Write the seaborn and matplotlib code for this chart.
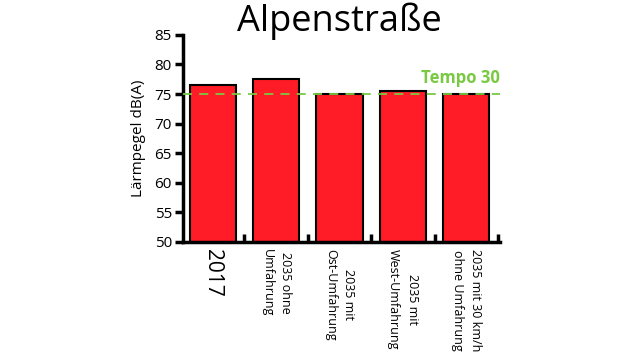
import matplotlib
matplotlib.use("Agg")
import matplotlib.pyplot as plt
import seaborn as sns
import pandas as pd
from matplotlib.ticker import FixedLocator

categories = ["2017", "2035 ohne\nUmfahrung", "2035 mit\nOst-Umfahrung",
              "2035 mit\nWest-Umfahrung", "2035 mit 30 km/h\nohne Umfahrung"]
values = [76.6, 77.6, 75.0, 75.5, 75.0]
yticks = [50, 55, 60, 65, 70, 75, 80, 85]
limit_value = 75
limit_label = "Tempo 30"
title = "Alpenstraße"
ylabel = "Lärmpegel dB(A)"

sns.set_theme(style="white")
plt.rcParams['font.family'] = ['Open Sans', 'DejaVu Sans']
plt.rcParams['text.color'] = 'black'
plt.rcParams['axes.labelcolor'] = 'black'

df = pd.DataFrame({"cat": categories, "val": values})

fig = plt.figure(figsize=(6.4, 3.6), dpi=100)
ax = fig.add_axes([0.286, 0.328, 0.495, 0.575])
sns.barplot(data=df, x="cat", y="val", color="#ff1c26", saturation=1,
            edgecolor="black", linewidth=1.5, width=0.73, ax=ax)

ax.set_ylim(50, 85)
ax.set_xlim(-0.47, 4.53)
ax.set_yticks(yticks)
ax.tick_params(axis="y", labelsize=11, length=6, width=2.5, direction="out",
               left=True, pad=2, colors="black")
ax.set_xticks(range(len(categories)))
ax.set_xticklabels([])
ax.tick_params(axis="x", length=0)
ax.xaxis.set_minor_locator(FixedLocator([0.5, 1.5, 2.5, 3.5, 4.5]))
ax.tick_params(axis="x", which="minor", length=6, width=2.5, direction="in",
               bottom=True, colors="black")

for s in ["top", "right"]:
    ax.spines[s].set_visible(False)
for s in ["left", "bottom"]:
    ax.spines[s].set_linewidth(2.5)
    ax.spines[s].set_color("black")

ax.axhline(limit_value, color="#7ac943", linestyle=(0, (5, 4)), linewidth=1.3, zorder=5)
ax.text(4.53, limit_value + 1.2, limit_label, color="#7ac943", fontsize=12,
        fontweight="bold", ha="right", va="bottom")

ax.set_ylabel(ylabel, fontsize=11, labelpad=6, color="black")
ax.set_xlabel("")

for i, lab in enumerate(categories):
    fs = 15 if i == 0 else 9
    ax.text(i, 48.8, lab, rotation=270, ha="center", va="top", fontsize=fs,
            linespacing=1.55, color="black")

fig.text(0.530, 0.94, title, ha="center", va="center", fontsize=26, color="black")

fig.savefig("out.png", dpi=100)
